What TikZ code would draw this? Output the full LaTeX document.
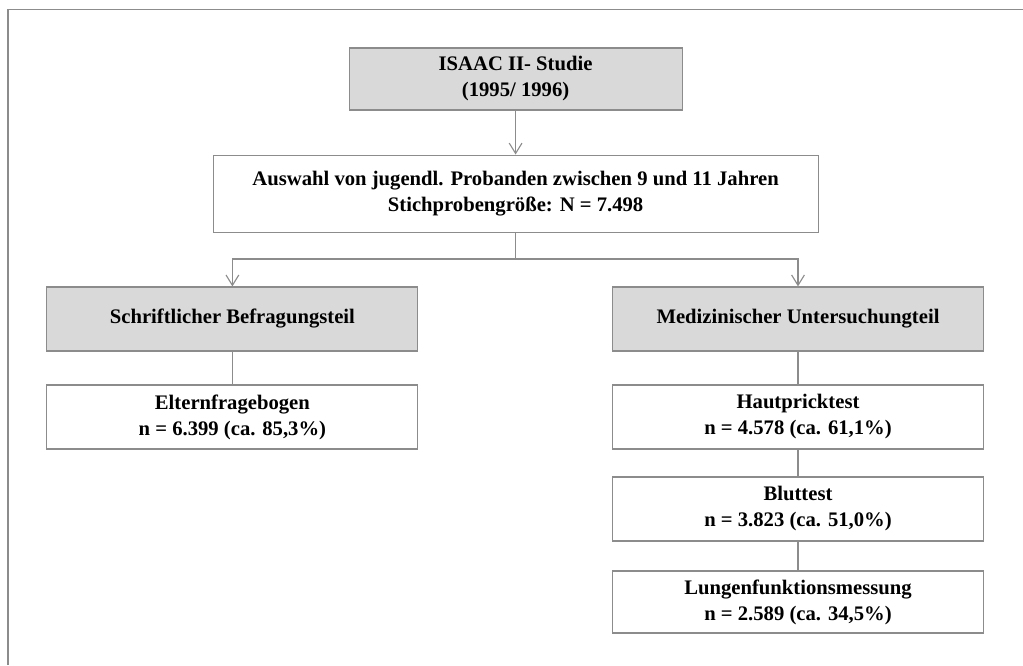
\documentclass[tikz,border=0pt]{standalone}
\usepackage{fontspec}
\setmainfont{Liberation Serif}
\usetikzlibrary{arrows.meta}
\definecolor{linegrey}{RGB}{140,140,140}
\definecolor{boxgrey}{RGB}{217,217,217}
\tikzset{
    box/.style={draw=linegrey, line width=0.8pt, fill=white, minimum width=9.275cm, minimum height=1.6cm, align=center, font=\fontsize{14.7}{18.5}\selectfont\bfseries, inner sep=0pt},
    greybox/.style={box, fill=boxgrey},
    arr/.style={-{Straight Barb[length=0.26cm,width=0.32cm]}},
    link/.style={draw=linegrey, line width=0.8pt}
}
\begin{document}
\begin{tikzpicture}
        \useasboundingbox (0,0) rectangle (25.575,-16.625);
        % frame
        \draw[linegrey, line width=1.2pt](0.2,-16.625) to (0.2,-0.2375) to (25.575,-0.2375);
        % boxes
        \node[greybox, minimum width=8.325cm, minimum height=1.55cm] (isaac) at(12.89,-1.975){ISAAC II- Studie\\(1995/ 1996)};
        \node[box, minimum width=15.125cm, minimum height=1.925cm] (auswahl) at(12.89,-4.84){Auswahl von jugendl. Probanden zwischen 9 und 11 Jahren\\Stichprobengröße: N = 7.498};
        \node[greybox] (schrift) at(5.81,-7.975){Schriftlicher Befragungsteil};
        \node[greybox] (medizin) at(19.95,-7.975){Medizinischer Untersuchungteil};
        \node[box] (eltern) at(5.81,-10.425){Elternfragebogen\\n = 6.399 (ca. 85,3\%)};
        \node[box] (haut) at(19.95,-10.425){Hautpricktest\\n = 4.578 (ca. 61,1\%)};
        \node[box] (blut) at(19.95,-12.725){Bluttest\\n = 3.823 (ca. 51,0\%)};
        \node[box, minimum height=1.55cm] (lunge) at(19.95,-15.05){Lungenfunktionsmessung\\n = 2.589 (ca. 34,5\%)};
        \coordinate (fork) at(12.89,-6.475);
        % connectors
        \draw[link, arr](isaac) to (auswahl);
        \draw[link](auswahl) to (fork);
            \draw[link, arr](fork) -| (schrift);
            \draw[link, arr](fork) -| (medizin);
        \draw[link](schrift) to (eltern);
        \draw[link](medizin) to (haut);
            \draw[link](haut) to (blut);
            \draw[link](blut) to (lunge);
        \end{tikzpicture}
\end{document}
